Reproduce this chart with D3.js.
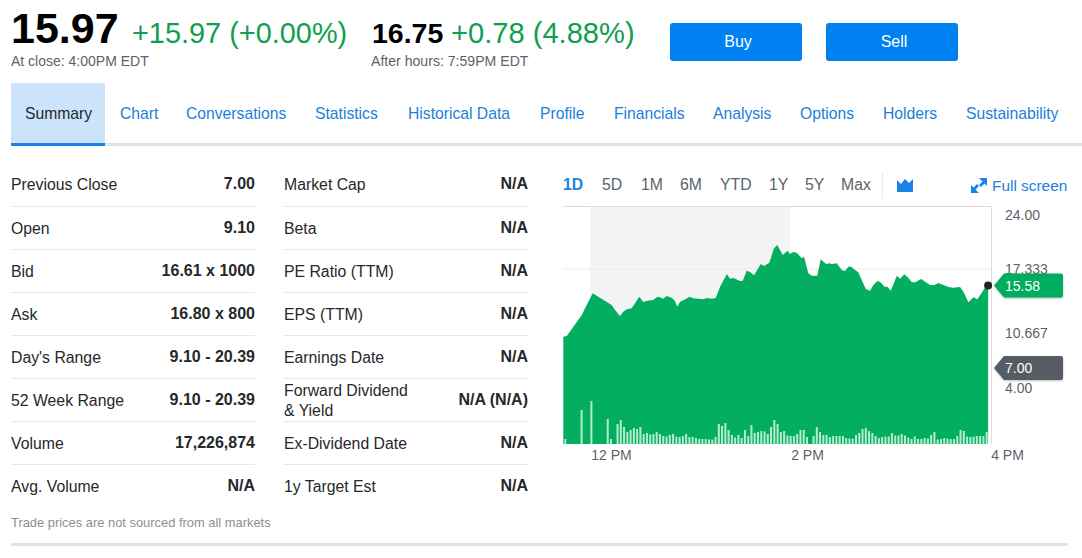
<!DOCTYPE html>
<html>
<head>
<meta charset="utf-8">
<script src="https://cdn.jsdelivr.net/npm/d3@7"></script>
<style>
  html, body { margin: 0; padding: 0; background: #fff; overflow: hidden; }
  svg { display: block; }
  text { font-family: "Liberation Sans", Arial, sans-serif; }
</style>
</head>
<body>
<div class="chart"></div>
<script>
// minutes after 11:30 and the price at that moment
var priceMinutes = [0.8, 2.9, 12.1, 15.1, 18.8, 30.4, 32.5, 35.5, 37.5, 39.6, 42.7, 44.7, 47.3, 49.8, 52.2, 55.9, 58.4, 60, 62, 64.1,
  67.2, 68.8, 70.6, 72.3, 74.7, 78, 80.4, 83.5, 86.5, 88.6, 91.7, 94.1, 96.8, 100.9, 102.9, 104.9, 109, 110.7, 113.1, 115.1,
  117.6, 121.7, 123.7, 126.9, 129.8, 131.8, 135.2, 138, 139.6, 141.6, 143.7, 146.8, 148.2, 150.8, 152.9, 156.3, 158.4, 161.7, 163.7, 165.2,
  168.2, 171.3, 173.3, 175.3, 177, 179.4, 181.4, 183.5, 186, 188.6, 190.6, 193.3, 195.3, 197.4, 199.2, 201.3, 205, 207, 209.6, 211.7,
  214.2, 216.2, 219.9, 222.3, 225.4, 228, 230.4, 233.5, 236.6, 239.6, 243.7, 245.8, 248.8, 251.9, 254.3, 257.4, 259, 260.9];
var priceValues = [10.17, 10.24, 12.46, 13.52, 14.76, 13.52, 12.99, 12.36, 12.81, 13.07, 13.17, 13.70, 14.40, 13.84, 13.98, 14.05, 14.40, 14.34, 14.19, 14.47,
  14.26, 14.05, 13.34, 13.87, 14.05, 14.40, 14.23, 14.19, 14.13, 14.26, 14.19, 14.26, 15.46, 16.80, 16.30, 16.38, 16.06, 16.09, 17.15, 17.01,
  16.66, 17.86, 17.65, 18.00, 19.52, 19.87, 18.81, 19.27, 18.92, 19.13, 19.06, 18.46, 18.63, 16.88, 16.62, 16.62, 18.36, 17.86, 17.93, 17.86,
  17.93, 17.23, 17.12, 17.57, 17.57, 17.23, 16.98, 16.17, 15.21, 15.03, 15.64, 16.09, 15.88, 15.46, 15.46, 15.03, 16.62, 16.30, 16.77, 16.45,
  15.92, 15.92, 16.27, 15.99, 15.64, 15.64, 15.85, 15.64, 15.43, 15.35, 15.43, 14.93, 13.81, 14.34, 14.13, 14.93, 15.37, 15.58];

// volume per two minute bucket, thousands of shares (estimated)
var volumes = [50, 0, 0, 0, 0, 340, 0, 0, 430, 0, 0, 0, 0, 250, 50, 0, 200, 240, 170, 120,
  140, 160, 150, 170, 100, 110, 95, 100, 120, 100, 80, 75, 90, 100, 75, 70, 80, 100, 70, 70,
  60, 50, 50, 50, 45, 45, 70, 200, 180, 210, 140, 90, 65, 90, 60, 140, 80, 190, 110, 120,
  130, 125, 100, 170, 240, 200, 120, 130, 85, 80, 80, 100, 140, 140, 70, 0, 80, 170, 120, 90,
  90, 70, 80, 80, 80, 80, 60, 55, 55, 90, 110, 150, 160, 130, 110, 80, 60, 70, 75, 75,
  110, 85, 85, 100, 85, 65, 50, 75, 50, 50, 60, 55, 90, 120, 45, 50, 60, 55, 50, 50,
  80, 140, 130, 75, 70, 75, 80, 80, 80, 120];

var yTicks = [24, 17.333, 10.667, 4];
var yTickLabels = ["24.00", "17.333", "10.667", "4.00"];
var xTicks = [30, 150, 270];
var xTickLabels = ["12 PM", "2 PM", "4 PM"];
var lastPrice = 15.58;
var prevClose = 7;
var shadeStart = 17.1, shadeEnd = 139.6;

var tabs = ["Summary", "Chart", "Conversations", "Statistics", "Historical Data", "Profile", "Financials", "Analysis", "Options", "Holders", "Sustainability"];
var tabLeft = [25, 120, 186, 315, 408, 540, 614, 713, 800, 883, 966];
var ranges = ["1D", "5D", "1M", "6M", "YTD", "1Y", "5Y", "Max"];
var rangeLeft = [563, 602, 641, 680, 720, 769, 805, 841];

var leftLabels = ["Previous Close", "Open", "Bid", "Ask", "Day's Range", "52 Week Range", "Volume", "Avg. Volume"];
var leftValues = ["7.00", "9.10", "16.61 x 1000", "16.80 x 800", "9.10 - 20.39", "9.10 - 20.39", "17,226,874", "N/A"];
var rightLabels = ["Market Cap", "Beta", "PE Ratio (TTM)", "EPS (TTM)", "Earnings Date", "Forward Dividend", "Ex-Dividend Date", "1y Target Est"];
var rightValues = ["N/A", "N/A", "N/A", "N/A", "N/A", "N/A (N/A)", "N/A", "N/A"];

var width = 1082, height = 558;
var blue = "#1a7fd9", green = "#109f4e", grey = "#5b636a", areaGreen = "#00ad5e";

var svg = d3.select(".chart").append("svg")
  .attr("width", width)
  .attr("height", height);

function label(x, y, str, size, color, weight, anchor) {
  return svg.append("text")
    .attr("x", x).attr("y", y)
    .attr("font-size", size)
    .attr("fill", color)
    .attr("font-weight", weight || "normal")
    .attr("text-anchor", anchor || "start")
    .text(str);
}

// header
label(11, 43, "15.97", 43, "#000", "bold");
label(132, 43, "+15.97 (+0.00%)", 28.9, green);
label(11, 66, "At close: 4:00PM EDT", 14, grey);
label(372, 43, "16.75", 28.5, "#000", "bold");
label(451, 43, "+0.78 (4.88%)", 29.1, green);
label(371, 66, "After hours: 7:59PM EDT", 14.1, grey);

[["Buy", 672], ["Sell", 828]].forEach(function (b) {
  svg.append("rect").attr("x", b[1] - 2).attr("y", 23).attr("width", 132).attr("height", 38).attr("rx", 3).attr("fill", "#0081f2");
  label(b[1] + 66, 47, b[0], 16, "#fff", "normal", "middle");
});

// tabs
svg.append("rect").attr("x", 11).attr("y", 83).attr("width", 94).attr("height", 60).attr("fill", "#cce4fb");
svg.append("rect").attr("x", 11).attr("y", 143).attr("width", 1071).attr("height", 3).attr("fill", "#e2e2e2");
svg.append("rect").attr("x", 11).attr("y", 143).attr("width", 94).attr("height", 3).attr("fill", "#1a83e6");
tabs.forEach(function (t, i) {
  label(tabLeft[i], 119, t, 15.7, i === 0 ? "#26282a" : blue);
});

// stats tables
function statsTable(labels, values, left, right) {
  labels.forEach(function (l, i) {
    var base = 189.5 + i * 43 + (i > 0 ? 1 : 0);
    if (l === "Forward Dividend") {
      label(left, 396, l, 15.8, "#26282a");
      label(left, 416, "& Yield", 15.8, "#26282a");
    } else {
      label(left, base, l, 15.8, "#26282a");
    }
    label(right, base - 1, values[i], 16, "#26282a", "bold", "end");
    if (i < labels.length - 1) {
      svg.append("line")
        .attr("x1", left).attr("x2", right)
        .attr("y1", 206.5 + i * 43).attr("y2", 206.5 + i * 43)
        .attr("stroke", "#e8e8e8");
    }
  });
}
statsTable(leftLabels, leftValues, 11, 255);
statsTable(rightLabels, rightValues, 284, 528);

label(11, 527, "Trade prices are not sourced from all markets", 12.9, "#8a8f94");
svg.append("rect").attr("x", 11).attr("y", 543).attr("width", 1057).attr("height", 3).attr("fill", "#e2e2e2");

// range selector
ranges.forEach(function (r, i) {
  label(rangeLeft[i], 190, r, 15.8, i === 0 ? "#1a83e6" : grey, i === 0 ? "bold" : "normal");
});
svg.append("line").attr("x1", 882.5).attr("x2", 882.5).attr("y1", 173).attr("y2", 198).attr("stroke", "#e8e8e8");

// mountain icon
svg.append("path")
  .attr("d", "M897 180 L901 184 L905 179 L909 183 L913 179 L913 192 L897 192 Z")
  .attr("fill", "#1a83e6");

// full screen icon
svg.append("path")
  .attr("d", "M979 178 L987 178 L987 186 L984.5 183.5 L981 187 L979 185 L982.5 181.5 Z M979 193 L971 193 L971 185 L973.5 187.5 L977 184 L979 186 L975.5 189.5 Z")
  .attr("fill", "#1a83e6");
label(992, 191, "Full screen", 15.4, blue);

// chart scales
var plotTop = 206, plotBottom = 444;
var x = d3.scaleLinear().domain([0, 270]).range([562, 1003]);
var y = d3.scaleLinear().domain([4, 24]).range([395, 206]);
var barH = d3.scaleLinear().domain([0, 600]).range([0, 60]);

// pre/regular shading
svg.append("rect")
  .attr("x", x(shadeStart)).attr("y", plotTop)
  .attr("width", x(shadeEnd) - x(shadeStart)).attr("height", plotBottom - plotTop)
  .attr("fill", "#f4f4f5");

// gridlines
svg.append("line").attr("x1", 563).attr("x2", 991).attr("y1", y(24) + .5).attr("y2", y(24) + .5).attr("stroke", "#dcdcdc");
svg.append("line").attr("x1", 563).attr("x2", 991).attr("y1", y(17.333)).attr("y2", y(17.333)).attr("stroke", "#ebebeb");
svg.append("line").attr("x1", 991.5).attr("x2", 991.5).attr("y1", plotTop).attr("y2", plotBottom).attr("stroke", "#dcdcdc");

// price area
var area = d3.area()
  .x(function (d) { return x(d); })
  .y0(plotBottom)
  .y1(function (d, i) { return y(priceValues[i]); });

svg.append("path")
  .datum(priceMinutes)
  .attr("d", area)
  .attr("fill", areaGreen)
  .attr("fill-opacity", 0.99);

// volume bars
svg.selectAll(".vol")
  .data(volumes)
  .enter()
  .append("rect")
  .attr("class", "vol")
  .attr("x", function (d, i) { return x(2 + i * 2) - 1; })
  .attr("y", function (d) { return plotBottom - barH(d); })
  .attr("width", 2)
  .attr("height", function (d) { return barH(d); })
  .attr("fill", "#b4eccb");

// axes
var xAxis = svg.append("g")
  .attr("transform", "translate(0," + plotBottom + ")")
  .call(d3.axisBottom(x).tickValues(xTicks).tickSize(0).tickPadding(6)
    .tickFormat(function (d, i) { return xTickLabels[i]; }));
xAxis.select(".domain").remove();
xAxis.selectAll("text")
  .attr("font-size", 14).attr("fill", grey)
  .attr("font-family", "Liberation Sans")
  .attr("dx", function (d) { return d === 270 ? 4 : 0; });

var yAxis = svg.append("g")
  .attr("transform", "translate(1005,0)")
  .call(d3.axisRight(y).tickValues(yTicks).tickSize(0).tickPadding(0)
    .tickFormat(function (d, i) { return yTickLabels[i]; }));
yAxis.select(".domain").remove();
yAxis.selectAll("text")
  .attr("font-size", 14).attr("fill", grey)
  .attr("font-family", "Liberation Sans")
  .attr("dy", function (d) {
    if (d === 24) return 13;
    if (d === 4) return -3;
    if (d === 10.667) return "0.39em";
    return ".32em";
  });

// price tags
function tag(value, color, textColor, shift) {
  var c = y(value) + shift;
  svg.append("path")
    .attr("d", "M" + 994 + " " + c + " L1004 " + (c - 12) + " L1061 " + (c - 12) + " Q1063 " + (c - 12) + " 1063 " + (c - 10)
      + " L1063 " + (c + 10) + " Q1063 " + (c + 12) + " 1061 " + (c + 12) + " L1004 " + (c + 12) + " Z")
    .attr("fill", color)
    .style("filter", "drop-shadow(0 1px 1px rgba(0,0,0,.25))");
  label(1005, c + 5, d3.format(".2f")(value), 14, textColor);
}
tag(prevClose, "#565c63", "#fff", 1.4);
tag(lastPrice, areaGreen, "#fff", 0);

svg.append("circle")
  .attr("cx", x(priceMinutes[priceMinutes.length - 1]))
  .attr("cy", y(lastPrice))
  .attr("r", 4)
  .attr("fill", "#222");
</script>
</body>
</html>
